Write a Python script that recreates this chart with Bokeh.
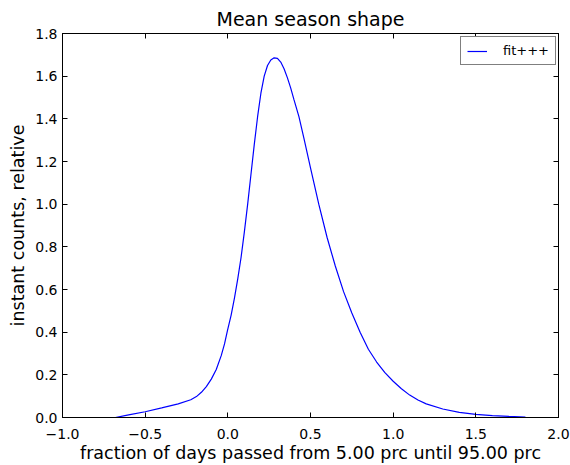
from bokeh.plotting import figure
from bokeh.models import LinearAxis, FixedTicker, Range1d, Legend, LegendItem
from bokeh.embed import file_html
from bokeh.resources import INLINE

# data
x_vals = [-0.68, -0.60, -0.50, -0.40, -0.30, -0.224, -0.19, -0.16, -0.13, -0.10,
          -0.07, -0.04, -0.02, -0.002, 0.02, 0.04, 0.06, 0.08, 0.10, 0.12,
          0.14, 0.16, 0.18, 0.20, 0.22, 0.24, 0.26, 0.28, 0.30, 0.32,
          0.34, 0.36, 0.38, 0.40, 0.43, 0.46, 0.50, 0.55, 0.60, 0.65,
          0.70, 0.75, 0.80, 0.85, 0.90, 0.95, 1.00, 1.05, 1.10, 1.15,
          1.20, 1.30, 1.40, 1.50, 1.60, 1.70, 1.80]
y_vals = [0.0, 0.012, 0.027, 0.045, 0.064, 0.083, 0.098, 0.118, 0.145, 0.180,
          0.225, 0.290, 0.345, 0.408, 0.480, 0.560, 0.650, 0.750, 0.870, 1.000,
          1.140, 1.280, 1.410, 1.520, 1.600, 1.650, 1.676, 1.686, 1.683, 1.666,
          1.635, 1.593, 1.545, 1.490, 1.410, 1.310, 1.170, 1.000, 0.845, 0.710,
          0.590, 0.490, 0.400, 0.320, 0.260, 0.210, 0.170, 0.135, 0.105, 0.082,
          0.064, 0.040, 0.024, 0.015, 0.009, 0.005, 0.002]
x_ticks = [-1.0, -0.5, 0.0, 0.5, 1.0, 1.5, 2.0]
x_tick_labels = ["\u22121.0", "\u22120.5", "0.0", "0.5", "1.0", "1.5", "2.0"]
y_ticks = [0.0, 0.2, 0.4, 0.6, 0.8, 1.0, 1.2, 1.4, 1.6, 1.8]
y_tick_labels = ["0.0", "0.2", "0.4", "0.6", "0.8", "1.0", "1.2", "1.4", "1.6", "1.8"]
series_name = "fit+++"
title_text = "Mean season shape"
x_label_text = "fraction of days passed from 5.00 prc until 95.00 prc"
y_label_text = "instant counts, relative"

FONT = "DejaVu Sans"

p = figure(width=570, height=465, output_backend="svg", toolbar_location=None,
           x_range=Range1d(-1.0, 2.0), y_range=Range1d(0.0, 1.8),
           title=title_text,
           min_border_left=62, min_border_right=12, min_border_top=33, min_border_bottom=48)
p.title.align = "center"
p.title.text_font = FONT
p.title.text_font_size = "19px"
p.title.text_font_style = "normal"
p.title.text_color = "black"
p.title.standoff = 7

p.xgrid.visible = False
p.ygrid.visible = False
p.outline_line_color = "black"
p.outline_line_width = 1
p.background_fill_color = "white"
p.border_fill_color = "white"

r = p.line(x_vals, y_vals, line_color="#0000ff", line_width=1.2)

def style_axis(ax, ticks, labels, show_labels=True):
    ax.ticker = FixedTicker(ticks=ticks)
    ax.major_tick_in = 5
    ax.major_tick_out = 0
    ax.minor_tick_line_color = None
    ax.axis_line_color = "black"
    ax.major_tick_line_color = "black"
    ax.major_label_text_font = FONT
    if show_labels:
        ax.major_label_overrides = {t: l for t, l in zip(ticks, labels)}
        ax.major_label_text_font_size = "14px"
        ax.major_label_text_color = "black"
    else:
        ax.major_label_overrides = {t: "" for t in ticks}
        ax.major_label_text_font_size = "1px"
        ax.major_label_text_color = None
        ax.major_label_standoff = 0

xa = p.xaxis[0]
style_axis(xa, x_ticks, x_tick_labels)
xa.major_label_standoff = 11
xa.axis_label = x_label_text
xa.axis_label_text_font = FONT
xa.axis_label_text_font_size = "17.5px"
xa.axis_label_text_font_style = "normal"
xa.axis_label_text_color = "black"
xa.axis_label_standoff = 1

ya = p.yaxis[0]
style_axis(ya, y_ticks, y_tick_labels)
ya.major_label_standoff = 5
ya.axis_label = y_label_text
ya.axis_label_text_font = FONT
ya.axis_label_text_font_size = "17.5px"
ya.axis_label_text_font_style = "normal"
ya.axis_label_text_color = "black"
ya.axis_label_standoff = 4

top = LinearAxis()
style_axis(top, x_ticks, x_tick_labels, show_labels=False)
p.add_layout(top, "above")
right = LinearAxis()
style_axis(right, y_ticks, y_tick_labels, show_labels=False)
p.add_layout(right, "right")

legend = Legend(items=[LegendItem(label=series_name, renderers=[r])],
                location=(398, 352))
legend.label_text_font = FONT
legend.label_text_font_size = "13px"
legend.label_text_color = "black"
legend.label_height = 12
legend.glyph_height = 12
legend.border_line_color = "black"
legend.border_line_width = 1.2
legend.background_fill_color = "white"
legend.background_fill_alpha = 1
legend.glyph_width = 20
legend.label_standoff = 16
legend.padding = 6
legend.margin = 0
p.add_layout(legend)

open("out.html", "w").write(file_html(p, INLINE))
